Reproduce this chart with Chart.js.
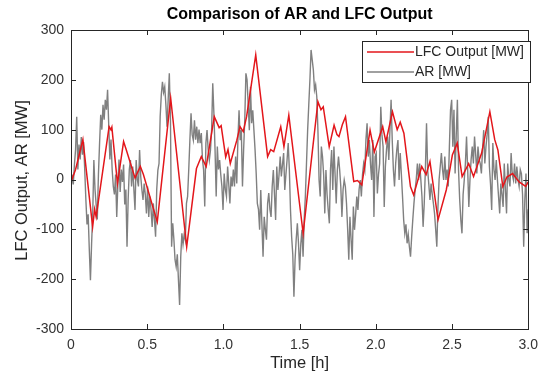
<!DOCTYPE html>
<html>
<head>
<meta charset="utf-8">
<script src="https://cdn.jsdelivr.net/npm/chart.js@4/dist/chart.umd.min.js"></script>
<style>
html,body{margin:0;padding:0;background:#fff;}
#wrap{width:546px;height:380px;}
</style>
</head>
<body>
<div id="wrap"><canvas id="c" width="546" height="380"></canvas></div>
<script>
const chartTitle = "Comparison of AR and LFC Output";
const xTitle = "Time [h]";
const yTitle = "LFC Output, AR [MW]";
const seriesNames = ["LFC Output [MW]", "AR [MW]"];

const lfcTime = [0,0.03,0.078,0.142,0.155,0.165,0.25,0.262,0.268,0.305,0.345,0.362,0.42,0.455,0.475,0.566,0.654,0.759,0.823,0.855,0.887,0.94,0.972,0.985,1.015,1.03,1.045,1.088,1.109,1.13,1.152,1.212,1.29,1.31,1.33,1.376,1.397,1.429,1.523,1.62,1.64,1.655,1.694,1.726,1.745,1.758,1.78,1.801,1.855,1.88,1.908,1.962,1.99,2.045,2.066,2.109,2.14,2.16,2.184,2.227,2.248,2.301,2.33,2.355,2.408,2.462,2.48,2.502,2.534,2.566,2.609,2.641,2.694,2.748,2.78,2.801,2.833,2.86,2.897,2.94,2.983,3.0];
const lfcValue = [-5,20,80,-95,-60,-75,106,100,105,-8,76,60,3,26,10,-85,163,-135,22,46,26,126,104,108,45,60,32,79,106,96,126,250,46,60,56,106,66,129,-108,156,140,146,66,109,90,86,110,126,-4,-2,-11,99,55,106,76,136,100,115,93,-14,-31,26,10,36,-81,-21,10,49,73,6,32,6,53,136,80,59,-14,5,12,-5,-14,-5];

const arTime = [
0,0.0075,0.015,0.0225,0.03,0.0375,0.045,0.0525,0.06,0.0675,
0.075,0.0825,0.09,0.0975,0.105,0.1125,0.12,0.1275,0.135,0.1425,
0.15,0.1575,0.165,0.1725,0.18,0.1875,0.195,0.2025,0.21,0.2175,
0.225,0.2325,0.24,0.2475,0.255,0.2625,0.27,0.2775,0.285,0.2925,
0.3,0.3075,0.315,0.3225,0.33,0.3375,0.345,0.3525,0.36,0.3675,
0.375,0.3825,0.39,0.3975,0.405,0.4125,0.42,0.4275,0.435,0.4425,
0.45,0.4575,0.465,0.4725,0.48,0.4875,0.495,0.5025,0.51,0.5175,
0.525,0.5325,0.54,0.5475,0.555,0.5625,0.57,0.5775,0.585,0.5925,
0.6,0.6075,0.615,0.6225,0.63,0.6375,0.645,0.6525,0.66,0.6675,
0.675,0.6825,0.69,0.6975,0.705,0.7125,0.72,0.7275,0.735,0.7425,
0.75,0.7575,0.765,0.7725,0.78,0.7875,0.795,0.8025,0.81,0.8175,
0.825,0.8325,0.84,0.8475,0.855,0.8625,0.87,0.8775,0.885,0.8925,
0.9,0.9075,0.915,0.9225,0.93,0.9375,0.945,0.9525,0.96,0.9675,
0.975,0.9825,0.99,0.9975,1.005,1.0125,1.02,1.0275,1.035,1.0425,
1.05,1.0575,1.065,1.0725,1.08,1.0875,1.095,1.1025,1.11,1.1175,
1.125,1.1325,1.14,1.1475,1.155,1.1625,1.17,1.1775,1.185,1.1925,
1.2,1.2075,1.215,1.2225,1.23,1.2375,1.245,1.2525,1.26,1.2675,
1.275,1.2825,1.29,1.2975,1.305,1.3125,1.32,1.3275,1.335,1.3425,
1.35,1.3575,1.365,1.3725,1.38,1.3875,1.395,1.4025,1.41,1.4175,
1.425,1.4325,1.44,1.4475,1.455,1.4625,1.47,1.4775,1.485,1.4925,
1.5,1.5075,1.515,1.5225,1.53,1.5375,1.545,1.5525,1.56,1.5675,
1.575,1.5825,1.59,1.5975,1.605,1.6125,1.62,1.6275,1.635,1.6425,
1.65,1.6575,1.665,1.6725,1.68,1.6875,1.695,1.7025,1.71,1.7175,
1.725,1.7325,1.74,1.7475,1.755,1.7625,1.77,1.7775,1.785,1.7925,
1.8,1.8075,1.815,1.8225,1.83,1.8375,1.845,1.8525,1.86,1.8675,
1.875,1.8825,1.89,1.8975,1.905,1.9125,1.92,1.9275,1.935,1.9425,
1.95,1.9575,1.965,1.9725,1.98,1.9875,1.995,2.0025,2.01,2.0175,
2.025,2.0325,2.04,2.0475,2.055,2.0625,2.07,2.0775,2.085,2.0925,
2.1,2.1075,2.115,2.1225,2.13,2.1375,2.145,2.1525,2.16,2.1675,
2.175,2.1825,2.19,2.1975,2.205,2.2125,2.22,2.2275,2.235,2.2425,
2.25,2.2575,2.265,2.2725,2.28,2.2875,2.295,2.3025,2.31,2.3175,
2.325,2.3325,2.34,2.3475,2.355,2.3625,2.37,2.3775,2.385,2.3925,
2.4,2.4075,2.415,2.4225,2.43,2.4375,2.445,2.4525,2.46,2.4675,
2.475,2.4825,2.49,2.4975,2.505,2.5125,2.52,2.5275,2.535,2.5425,
2.55,2.5575,2.565,2.5725,2.58,2.5875,2.595,2.6025,2.61,2.6175,
2.625,2.6325,2.64,2.6475,2.655,2.6625,2.67,2.6775,2.685,2.6925,
2.7,2.7075,2.715,2.7225,2.73,2.7375,2.745,2.7525,2.76,2.7675,
2.775,2.7825,2.79,2.7975,2.805,2.8125,2.82,2.8275,2.835,2.8425,
2.85,2.8575,2.865,2.8725,2.88,2.8875,2.895,2.9025,2.91,2.9175,
2.925,2.9325,2.94,2.9475,2.955,2.9625,2.97,2.9775,2.985,2.9925,
3.0];
const arValue = [
-20,10,-10,30,60,126,20,70,40,85,
50,75,20,-40,-90,-70,-140,-202,-130,-70,
39,-20,-50,-80,10,73,130,100,150,120,
160,140,180,110,40,80,20,-14,-30,10,
-75,-10,40,-25,20,-5,30,-50,-20,-135,
-40,20,39,-14,26,-20,-61,39,0,-14,
59,6,-20,-41,-8,-30,-68,-14,-75,-34,
-60,-95,-48,-80,-115,-20,19,32,126,170,
196,175,186,150,106,160,213,120,-135,-88,
-120,-161,-175,-150,-202,-252,-155,-108,-130,-110,
-121,-48,-34,20,79,133,90,79,119,80,
106,73,100,73,93,40,19,-54,73,99,
60,39,59,100,193,133,60,-34,66,20,
39,10,-14,-61,12,-20,-34,26,-10,-48,
6,-14,20,-14,46,-8,80,139,79,99,
-14,59,120,213,200,150,99,186,113,139,
99,60,12,-48,-60,-101,-21,-90,-155,-75,
-100,-121,-48,-27,-60,-75,-14,19,-30,-81,
26,-21,10,46,6,30,53,-21,10,39,
73,20,-61,-115,-150,-235,-161,-120,-88,-128,
-182,-130,-101,-155,-80,-34,32,99,150,200,
260,240,220,180,190,166,99,-1,-34,66,
46,10,-68,19,-30,-61,-88,20,59,-21,
66,10,-48,19,46,20,-14,-75,-20,-1,
-14,-48,-100,-161,-75,-120,-161,-54,-101,-70,
-34,-61,-20,-1,-34,10,32,19,80,113,
46,79,30,-1,79,-75,46,53,-28,10,
32,146,90,66,-55,26,60,86,39,100,
160,79,20,-14,32,60,79,-1,53,10,
-34,-81,-108,-90,-128,-110,-135,-155,-115,-80,
-48,-21,0,32,-1,32,0,-34,-95,-48,
20,113,19,-10,-41,-8,-30,-48,-68,-100,
-135,-55,0,26,53,20,-1,46,-1,20,
-14,66,140,160,66,140,12,90,160,19,
-40,-81,-108,-30,-1,32,86,20,-55,-1,
40,66,32,86,50,12,66,40,32,12,
60,99,32,66,90,126,26,-10,-61,73,
20,-1,39,0,-34,-68,-8,-30,-55,32,
-20,-68,32,0,-14,53,10,-1,32,-8,
26,0,-14,20,12,-30,-135,-40,12,-108,
-60];

const xTickValues = [0,0.5,1,1.5,2,2.5,3];
const yTickValues = [-300,-200,-100,0,100,200,300];

const lfcPoints = lfcTime.map((t,i)=>({x:t,y:lfcValue[i]}));
const arPoints = arTime.map((t,i)=>({x:t,y:arValue[i]}));

const TXT = '#262626';
const TICK = '#333333';
const FONT = '"Liberation Sans", Arial, Helvetica, sans-serif';
const RED = '#e3161b';
const GREY = '#808080';

const frame = {
  id: 'frame',
  afterDraw(chart) {
    const ctx = chart.ctx, a = chart.chartArea;
    const xs = chart.scales.x, ys = chart.scales.y;
    ctx.save();
    ctx.strokeStyle = TXT;
    ctx.lineWidth = 1;
    ctx.strokeRect(Math.round(a.left)+0.5, Math.round(a.top)+0.5, Math.round(a.right-a.left), Math.round(a.bottom-a.top));
    const tl = 5;
    ctx.beginPath();
    xTickValues.forEach(v=>{
      const p = Math.round(xs.getPixelForValue(v))+0.5;
      ctx.moveTo(p,a.bottom); ctx.lineTo(p,a.bottom-tl);
      ctx.moveTo(p,a.top); ctx.lineTo(p,a.top+tl);
    });
    yTickValues.forEach(v=>{
      const p = Math.round(ys.getPixelForValue(v))+0.5;
      ctx.moveTo(a.left,p); ctx.lineTo(a.left+tl,p);
      ctx.moveTo(a.right,p); ctx.lineTo(a.right-tl,p);
    });
    ctx.stroke();
    // title
    ctx.fillStyle = '#000';
    ctx.font = 'bold 16px ' + FONT;
    ctx.textAlign = 'center'; ctx.textBaseline = 'middle';
    ctx.fillText(chartTitle, (a.left+a.right)/2, 15);
    // axis titles
    ctx.fillStyle = TXT;
    ctx.font = '16.5px ' + FONT;
    ctx.fillText(xTitle, (a.left+a.right)/2, 363);
    ctx.save();
    ctx.translate(22, (a.top+a.bottom)/2 + 1);
    ctx.rotate(-Math.PI/2);
    ctx.fillText(yTitle, 0, 0);
    ctx.restore();
    // legend
    const lx = 362, ly = 41, lw = 168, lh = 41;
    ctx.fillStyle = '#fff';
    ctx.fillRect(lx, ly, lw, lh);
    ctx.strokeStyle = TXT;
    ctx.lineWidth = 1;
    ctx.strokeRect(lx+0.5, ly+0.5, lw, lh);
    const rows = [[seriesNames[0], RED, 52], [seriesNames[1], GREY, 72]];
    ctx.font = '14px ' + FONT;
    ctx.textAlign = 'left';
    rows.forEach(r=>{
      ctx.strokeStyle = r[1]; ctx.lineWidth = 1.4;
      ctx.beginPath(); ctx.moveTo(367, r[2]); ctx.lineTo(414, r[2]); ctx.stroke();
      ctx.fillStyle = TXT;
      ctx.fillText(r[0], 415, r[2]);
    });
    ctx.restore();
  }
};

new Chart(document.getElementById('c'), {
  type: 'line',
  data: {
    datasets: [
      {label: seriesNames[0], data: lfcPoints, borderColor: RED, borderWidth: 1.5, pointRadius: 0, tension: 0, fill: false},
      {label: seriesNames[1], data: arPoints, borderColor: GREY, borderWidth: 1.4, pointRadius: 0, tension: 0, fill: false}
    ]
  },
  options: {
    responsive: false,
    animation: false,
    events: [],
    layout: {padding: {top: 30, right: 6, left: 0, bottom: 0}},
    plugins: {legend: {display: false}, title: {display: false}, tooltip: {enabled: false}},
    scales: {
      x: {
        type: 'linear', min: 0, max: 3,
        grid: {display: false, drawTicks: false},
        border: {display: false},
        afterBuildTicks: s => { s.ticks = xTickValues.map(v=>({value:v})); },
        ticks: {autoSkip: false, maxRotation: 0, padding: 8, color: TICK, font: {size: 14, family: FONT}},
        afterFit: s => { s.height = 51; }
      },
      y: {
        min: -300, max: 300,
        grid: {display: false, drawTicks: false},
        border: {display: false},
        afterBuildTicks: s => { s.ticks = yTickValues.map(v=>({value:v})); },
        ticks: {autoSkip: false, padding: 7, color: TICK, font: {size: 14, family: FONT}},
        afterFit: s => { s.width = 71; }
      }
    }
  },
  plugins: [frame]
});
</script>
</body>
</html>
